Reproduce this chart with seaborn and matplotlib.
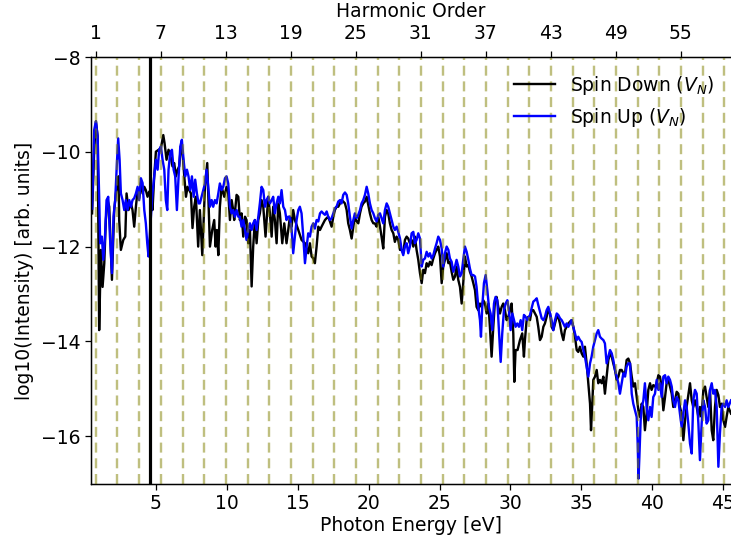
import matplotlib
matplotlib.use("Agg")
import matplotlib.pyplot as plt
import seaborn as sns
import pandas as pd

# ---------------- data ----------------
omega = 0.764            # fundamental photon energy [eV]
gap_energy = 4.6         # vertical marker [eV]
harmonic_lines = list(range(1, 60, 2))
top_ticks = [1, 7, 13, 19, 25, 31, 37, 43, 49, 55]
x_ticks = [5, 10, 15, 20, 25, 30, 35, 40, 45]
y_ticks = [-8, -10, -12, -14, -16]
x_limits = [0.45, 45.55]
y_limits = [-17, -8]

down_energy = [
    0.50, 0.65, 0.77, 0.89, 1.00, 1.12, 1.24, 1.36, 1.47, 1.59, 1.71, 1.90, 2.06, 2.18, 2.30, 2.37,
    2.41, 2.53, 2.70, 2.84, 2.93, 3.07, 3.24, 3.35, 3.47, 3.59, 3.71, 3.82, 3.94, 4.06, 4.18, 4.29,
    4.41, 4.53, 4.65, 4.76, 4.88, 5.00, 5.19, 5.35, 5.52, 5.61, 5.75, 5.89, 6.06, 6.17, 6.29, 6.41,
    6.53, 6.64, 6.76, 6.88, 7.00, 7.12, 7.23, 7.35, 7.47, 7.58, 7.70, 7.82, 7.98, 8.10,
    8.27, 8.46, 8.62, 8.81, 8.97, 9.11, 9.21, 9.30, 9.40, 9.51, 9.63, 9.82, 9.98, 10.10, 10.22, 10.34,
    10.45, 10.52, 10.69, 10.81, 10.92, 11.04, 11.16, 11.28, 11.39, 11.51, 11.63, 11.75, 11.86, 11.98,
    12.10, 12.22, 12.33, 12.45, 12.57, 12.73, 12.92, 13.04, 13.16, 13.27, 13.39, 13.51, 13.63, 13.74,
    13.91, 14.05, 14.21, 14.33, 14.45, 14.57, 14.68, 14.80, 15.04, 15.27, 15.51, 15.74, 15.86,
    15.98, 16.10, 16.21, 16.33, 16.45, 16.57, 16.68, 16.80, 16.92, 17.04, 17.15, 17.27, 17.39, 17.51,
    17.62, 17.74, 17.86, 17.98, 18.09, 18.21, 18.33, 18.45, 18.56, 18.68, 18.80, 18.92, 19.03, 19.15,
    19.27, 19.39, 19.50, 19.62, 19.74, 19.86, 19.97, 20.09, 20.21, 20.33, 20.44, 20.56, 20.68, 20.80,
    20.91, 21.03, 21.15, 21.27, 21.38, 21.50, 21.62, 21.74, 21.85, 21.97, 22.09, 22.21, 22.33, 22.44,
    22.56, 22.68, 22.79, 22.91, 23.03, 23.15, 23.26, 23.38, 23.50, 23.62,
    23.74, 23.85, 23.97, 24.09, 24.21, 24.32, 24.44, 24.56, 24.68, 24.79, 24.91, 25.03, 25.15, 25.26,
    25.38, 25.50, 25.62, 25.73, 25.85, 25.97, 26.09, 26.20, 26.32, 26.44, 26.56, 26.67, 26.79, 26.91,
    27.03, 27.14, 27.26, 27.38, 27.50, 27.61, 27.73, 27.85, 27.97, 28.08, 28.20, 28.32, 28.44, 28.55,
    28.67, 28.79, 28.91, 29.02, 29.14, 29.26, 29.38, 29.49, 29.61, 29.73, 29.85, 29.96, 30.08, 30.20,
    30.27, 30.36, 30.50, 30.67, 30.83, 30.95, 31.02, 31.14, 31.26, 31.38,
    31.49, 31.61, 31.73, 31.85, 31.96, 32.08, 32.20, 32.32, 32.43, 32.55, 32.67, 32.79, 32.90, 33.02,
    33.14, 33.26, 33.37, 33.49, 33.61, 33.73, 33.84, 33.96, 34.08, 34.20, 34.31, 34.43, 34.55, 34.67,
    34.78, 34.90, 35.02, 35.14, 35.25, 35.37, 35.49, 35.61, 35.68, 35.77, 35.84, 35.96, 36.08, 36.19,
    36.31, 36.43, 36.55, 36.66, 36.78, 36.90, 37.02, 37.14, 37.25, 37.37, 37.49, 37.61, 37.72, 37.84,
    37.96, 38.08, 38.19, 38.31, 38.43, 38.55, 38.66, 38.78, 38.90, 39.02, 39.13,
    39.25, 39.37, 39.48, 39.60, 39.72, 39.84, 39.95, 40.07, 40.19, 40.31, 40.43, 40.54, 40.66, 40.78,
    40.90, 41.01, 41.13, 41.25, 41.37, 41.48, 41.60, 41.72, 41.84, 41.95, 42.07, 42.19, 42.31, 42.42,
    42.54, 42.66, 42.78, 42.89, 43.01, 43.13, 43.25, 43.36, 43.48, 43.60, 43.72, 43.83, 43.95, 44.07,
    44.19, 44.30, 44.42, 44.54, 44.66, 44.77, 44.89, 45.01, 45.13, 45.24, 45.36, 45.55,
]
down_intensity = [
    -11.30, -9.96, -9.36, -9.68, -13.76, -12.07, -12.85, -12.35, -11.44, -11.02, -11.16, -12.70, -11.23, -10.88, -10.59, -10.52,
    -11.44, -12.07, -11.86, -11.79, -10.88, -11.23, -11.09, -11.23, -11.58, -11.16, -10.81, -10.98, -10.66, -10.88, -10.74, -10.81,
    -10.95, -10.84, -10.95, -11.23, -10.52, -10.00, -9.96, -9.93, -9.65, -9.82, -10.17, -9.96, -10.14, -10.31, -10.24, -10.52,
    -10.38, -10.31, -9.89, -10.03, -10.52, -10.95, -10.74, -10.81, -10.88, -11.61, -11.16, -10.95, -12.00, -11.23,
    -12.18, -10.74, -10.24, -12.00, -11.65, -11.44, -12.00, -11.65, -12.18, -11.16, -10.74, -10.95, -10.74, -10.88, -11.44, -11.02,
    -11.23, -11.44, -10.91, -10.95, -11.44, -11.30, -11.79, -11.37, -11.44, -11.93, -11.65, -12.84, -12.00, -11.44,
    -11.93, -11.44, -11.30, -11.02, -11.16, -11.79, -10.95, -11.30, -11.79, -11.16, -11.44, -11.93, -11.09, -11.30,
    -11.93, -11.51, -11.93, -11.65, -11.37, -11.58, -11.23, -11.44, -11.65, -11.86, -11.93, -12.14, -11.93,
    -12.21, -12.25, -12.35, -12.00, -11.58, -11.65, -11.58, -11.51, -11.44, -11.40, -11.37, -11.47, -11.58, -11.37,
    -11.23, -11.16, -11.16, -11.09, -11.02, -11.05, -11.09, -11.23, -11.51, -11.65, -11.83, -11.58, -11.37, -11.47,
    -11.51, -11.30, -11.16, -11.09, -11.05, -10.95, -11.12, -11.30, -11.44, -11.51, -11.51, -11.58, -11.37, -11.58,
    -11.79, -12.04, -11.37, -11.23, -11.30, -11.51, -11.65, -11.72, -11.90, -11.79, -11.86, -12.07, -12.07, -12.14,
    -11.86, -11.79, -11.83, -11.93, -11.86, -12.00, -11.79, -12.07, -12.28, -12.56,
    -12.77, -12.49, -12.56, -12.35, -12.42, -12.32, -12.39, -12.25, -12.14, -12.07, -12.00, -12.21, -12.77, -12.42,
    -12.28, -12.14, -12.35, -12.32, -12.53, -12.70, -12.63, -12.42, -12.70, -12.85, -13.20, -12.77, -12.21, -12.42,
    -12.39, -12.53, -12.63, -12.77, -12.92, -13.27, -13.34, -13.20, -13.27, -13.13, -13.20, -13.41, -13.20, -13.69,
    -14.32, -13.69, -13.13, -13.06, -13.27, -13.41, -13.27, -13.20, -13.34, -13.55, -13.48, -13.34, -13.20, -13.83,
    -14.85, -14.18, -14.18, -13.97, -13.83, -14.32, -13.97, -13.55, -13.48, -13.55,
    -13.34, -13.34, -13.41, -13.48, -13.69, -13.97, -13.90, -13.69, -13.62, -13.48, -13.34, -13.41, -13.69, -13.76,
    -13.62, -13.48, -13.48, -13.62, -13.83, -13.97, -13.76, -13.69, -13.62, -13.58, -13.55, -13.69, -13.90, -14.18,
    -14.22, -14.11, -14.25, -14.32, -14.11, -14.46, -14.88, -15.31, -15.87, -15.31, -14.81, -14.74, -14.60, -14.88,
    -14.81, -14.88, -14.74, -15.10, -14.74, -14.39, -14.25, -14.32, -14.46, -14.60, -14.81, -14.74, -14.60, -14.60,
    -14.67, -14.67, -14.39, -14.36, -14.46, -14.74, -14.95, -14.88, -15.17, -15.45, -15.59,
    -15.31, -15.38, -15.87, -15.52, -15.02, -14.88, -15.02, -14.92, -14.95, -14.88, -14.71, -14.74, -14.95, -15.45,
    -15.17, -14.88, -14.81, -14.95, -15.10, -15.38, -15.24, -15.06, -15.10, -15.38, -15.52, -16.08, -15.66, -15.38,
    -15.13, -14.88, -15.24, -15.38, -15.24, -15.38, -15.59, -15.38, -15.59, -15.02, -14.95, -15.17, -15.38, -15.02,
    -15.87, -16.08, -15.38, -15.02, -15.13, -15.38, -15.31, -15.66, -15.80, -15.59, -15.38, -15.52,
]

up_energy = [
    0.50, 0.65, 0.77, 0.89, 1.00, 1.07, 1.19, 1.29, 1.40, 1.52, 1.64, 1.76, 1.90, 2.01, 2.13, 2.25,
    2.34, 2.44, 2.53, 2.65, 2.77, 2.88, 3.00, 3.12, 3.24, 3.35, 3.47, 3.59, 3.71, 3.82, 3.94, 4.06,
    4.18, 4.29, 4.39, 4.48, 4.62, 4.76, 4.88, 5.00, 5.12, 5.23, 5.35, 5.47, 5.59, 5.70, 5.80, 5.89,
    6.01, 6.13, 6.25, 6.36, 6.48, 6.60, 6.72, 6.83, 6.95, 7.07, 7.19, 7.30, 7.42, 7.54, 7.66, 7.77,
    7.89, 8.01,
    8.10, 8.22, 8.34, 8.46, 8.57, 8.69, 8.81, 8.93, 9.04, 9.16, 9.28, 9.40, 9.51, 9.63, 9.75, 9.87,
    9.98, 10.10, 10.22, 10.34, 10.45, 10.57, 10.69, 10.81, 10.92, 11.04, 11.16, 11.28, 11.39, 11.51,
    11.63, 11.75, 11.86, 11.98, 12.10, 12.22, 12.33, 12.45, 12.57, 12.69, 12.80, 12.92, 13.04, 13.16,
    13.27, 13.39, 13.51, 13.63, 13.74, 13.86, 13.98, 14.10, 14.21, 14.33, 14.45, 14.57, 14.68, 14.80,
    14.92, 15.04, 15.15, 15.27, 15.39, 15.51, 15.63, 15.74, 15.86,
    15.98, 16.10, 16.21, 16.33, 16.45, 16.57, 16.68, 16.80, 16.92, 17.04, 17.15, 17.27, 17.39, 17.51,
    17.62, 17.74, 17.86, 17.98, 18.09, 18.21, 18.33, 18.45, 18.56, 18.68, 18.80, 18.92, 19.03, 19.15,
    19.27, 19.39, 19.50, 19.62, 19.74, 19.86, 19.97, 20.09, 20.21, 20.33, 20.44, 20.56, 20.68, 20.80,
    20.91, 21.03, 21.15, 21.27, 21.38, 21.50, 21.62, 21.74, 21.85, 21.97, 22.09, 22.21, 22.33, 22.44,
    22.56, 22.68, 22.79, 22.91, 23.03, 23.15, 23.26, 23.38, 23.50, 23.62,
    23.74, 23.85, 23.97, 24.09, 24.21, 24.32, 24.44, 24.56, 24.68, 24.79, 24.91, 25.03, 25.15, 25.26,
    25.38, 25.50, 25.62, 25.73, 25.85, 25.97, 26.09, 26.20, 26.32, 26.44, 26.56, 26.67, 26.79, 26.91,
    27.03, 27.14, 27.26, 27.38, 27.50, 27.61, 27.73, 27.85, 27.92, 28.01, 28.13, 28.25, 28.37, 28.48,
    28.60, 28.72, 28.84, 28.95, 29.07, 29.19, 29.31, 29.42, 29.54, 29.66, 29.78, 29.89, 30.01, 30.13,
    30.25, 30.36, 30.48, 30.60, 30.72, 30.83, 30.95, 31.07, 31.19, 31.38,
    31.49, 31.61, 31.73, 31.85, 31.96, 32.08, 32.20, 32.32, 32.43, 32.55, 32.67, 32.79, 32.90, 33.02,
    33.14, 33.26, 33.37, 33.49, 33.61, 33.73, 33.84, 33.96, 34.08, 34.20, 34.31, 34.43, 34.55, 34.67,
    34.78, 34.90, 35.02, 35.14, 35.25, 35.37, 35.49, 35.61, 35.72, 35.84, 35.96, 36.08, 36.19, 36.31,
    36.43, 36.55, 36.66, 36.78, 36.90, 37.02, 37.14, 37.25, 37.37, 37.49, 37.61, 37.72, 37.84, 37.96,
    38.08, 38.19, 38.31, 38.43, 38.55, 38.66, 38.78, 38.90, 38.97, 39.03, 39.09,
    39.18, 39.27, 39.37, 39.48, 39.60, 39.72, 39.84, 39.95, 40.07, 40.19, 40.31, 40.43, 40.54, 40.66,
    40.78, 40.90, 41.01, 41.13, 41.25, 41.37, 41.48, 41.60, 41.72, 41.84, 41.95, 42.07, 42.19, 42.31,
    42.42, 42.54, 42.66, 42.78, 42.89, 43.01, 43.13, 43.25, 43.36, 43.48, 43.60, 43.72, 43.83, 43.95,
    44.07, 44.19, 44.30, 44.42, 44.54, 44.66, 44.77, 44.89, 45.01, 45.13, 45.24, 45.36, 45.55,
]
up_intensity = [
    -11.20, -9.54, -9.36, -9.68, -10.95, -11.93, -11.79, -12.28, -11.86, -11.02, -10.95, -11.79, -12.56, -11.37, -11.02, -10.24,
    -9.72, -10.17, -10.88, -11.02, -11.23, -11.02, -11.23, -11.02, -11.16, -11.02, -10.98, -10.88, -10.74, -11.02, -10.56, -10.66,
    -11.23, -11.51, -11.93, -12.21, -11.50, -10.88, -10.52, -10.17, -10.38, -9.96, -9.89, -10.17, -10.38, -11.02, -11.23, -10.38,
    -10.03, -9.96, -10.38, -10.52, -11.23, -10.52, -9.89, -9.75, -10.17, -10.52, -10.38, -10.52, -10.81, -10.52, -10.95, -10.59,
    -10.88, -11.09,
    -11.09, -10.95, -10.81, -10.67, -10.38, -10.74, -11.16, -11.02, -11.16, -11.02, -11.09, -10.88, -10.67, -10.81, -10.74, -10.56,
    -10.52, -10.67, -11.16, -11.30, -11.23, -11.37, -11.23, -11.37, -11.37, -11.58, -11.44, -11.65, -11.86, -11.65,
    -11.51, -11.65, -11.51, -11.44, -11.65, -11.37, -11.09, -10.74, -10.81, -11.16, -11.02, -10.95, -11.09, -11.02,
    -10.95, -11.30, -11.09, -10.95, -11.09, -10.81, -11.16, -11.23, -11.44, -11.37, -11.37, -11.65, -12.14, -11.79,
    -11.44, -11.23, -11.16, -11.30, -11.79, -12.35, -12.00, -11.72, -11.79,
    -11.58, -11.51, -11.62, -11.44, -11.47, -11.30, -11.26, -11.30, -11.33, -11.26, -11.37, -11.44, -11.40, -11.30,
    -11.19, -11.16, -11.05, -11.02, -11.09, -10.91, -10.86, -10.91, -11.09, -11.37, -11.62, -11.44, -11.30, -11.40,
    -11.33, -11.23, -11.09, -11.02, -10.91, -10.74, -10.88, -11.09, -11.23, -11.30, -11.40, -11.47, -11.33, -11.30,
    -11.40, -11.51, -11.23, -11.09, -11.16, -11.30, -11.44, -11.58, -11.65, -11.58, -11.69, -11.83, -12.07, -12.18,
    -12.00, -11.93, -12.14, -12.00, -11.72, -11.69, -11.93, -11.86, -11.72, -11.83,
    -12.42, -12.28, -12.25, -12.11, -12.21, -12.14, -12.25, -12.18, -12.04, -11.93, -11.79, -11.86, -12.04, -12.42,
    -12.14, -12.00, -12.07, -12.25, -12.32, -12.53, -12.42, -12.28, -12.42, -12.63, -12.56, -12.28, -12.00, -12.11,
    -12.28, -12.46, -12.60, -12.60, -12.63, -12.85, -13.27, -13.55, -13.90, -13.27, -12.77, -12.60, -12.92, -13.27,
    -13.41, -13.76, -13.20, -13.06, -13.13, -13.76, -14.43, -13.83, -13.34, -13.20, -13.13, -13.34, -13.76, -13.41,
    -13.55, -13.69, -13.62, -13.69, -13.55, -13.76, -13.44, -13.48, -13.55, -13.44,
    -13.30, -13.16, -13.13, -13.09, -13.23, -13.37, -13.51, -13.55, -13.48, -13.34, -13.27, -13.41, -13.55, -13.76,
    -13.55, -13.41, -13.44, -13.51, -13.55, -13.62, -13.69, -13.62, -13.69, -13.62, -13.55, -13.69, -13.83, -13.97,
    -13.90, -13.97, -14.01, -14.18, -14.32, -14.53, -14.74, -14.46, -14.32, -14.11, -13.97, -13.83, -13.76, -13.90,
    -13.94, -13.97, -14.04, -14.46, -14.32, -14.18, -14.25, -14.39, -14.60, -14.74, -14.88, -15.10, -14.88, -14.67,
    -14.74, -14.53, -14.46, -14.46, -15.10, -15.31, -15.45, -15.59, -16.15, -16.89, -16.43,
    -15.66, -15.38, -15.24, -14.88, -15.38, -15.66, -15.38, -15.59, -15.17, -15.10, -14.81, -15.02, -14.88, -15.17,
    -14.74, -14.71, -14.88, -14.74, -14.81, -14.95, -15.24, -15.38, -15.17, -15.24, -15.52, -15.80, -15.52, -15.24,
    -15.38, -15.73, -16.15, -16.36, -15.24, -15.02, -15.10, -15.73, -16.50, -15.73, -15.24, -15.38, -15.73, -15.66,
    -15.02, -14.88, -15.10, -15.02, -15.38, -16.64, -15.94, -15.38, -15.31, -15.38, -15.24, -15.38, -15.24,
]

label_down = "Spin Down ($V_N$)"
label_up = "Spin Up ($V_N$)"

# ---------------- plot ----------------
plt.rcParams["font.size"] = 11.8

df = pd.concat([
    pd.DataFrame({"energy": down_energy, "intensity": down_intensity, "spin": label_down}),
    pd.DataFrame({"energy": up_energy, "intensity": up_intensity, "spin": label_up}),
], ignore_index=True)

fig = plt.figure(figsize=(6.4, 4.8), dpi=731 / 6.4)
ax = fig.add_axes([0.125, 0.117, 0.875, 0.779])

sns.lineplot(data=df, x="energy", y="intensity", hue="spin",
             hue_order=[label_down, label_up],
             palette={label_down: "black", label_up: "blue"},
             estimator=None, sort=False, linewidth=1.5, ax=ax, zorder=2)

for h in harmonic_lines:
    ax.axvline(h * omega, color="olive", alpha=0.5, lw=1.5,
               dashes=(4.2, 2.4), zorder=3)
ax.axvline(gap_energy, color="black", lw=2, zorder=4)

ax.set_xlim(x_limits)
ax.set_ylim(y_limits)
ax.set_xticks(x_ticks)
ax.set_yticks(y_ticks)
ax.tick_params(axis="x", pad=2.5)
ax.set_xlabel("Photon Energy [eV]", labelpad=2)
ax.set_ylabel("log10(Intensity) [arb. units]")
ax.spines["right"].set_visible(False)

leg = ax.legend(loc="upper right", frameon=False, handlelength=2.2)

ax2 = ax.twiny()
ax2.set_xlim(x_limits[0] / omega, x_limits[1] / omega)
ax2.set_xticks(top_ticks)
ax2.tick_params(axis="x", pad=5.5)
ax2.set_xlabel("Harmonic Order", labelpad=4)
ax2.spines["right"].set_visible(False)

fig.savefig("out.png", dpi=731 / 6.4)
